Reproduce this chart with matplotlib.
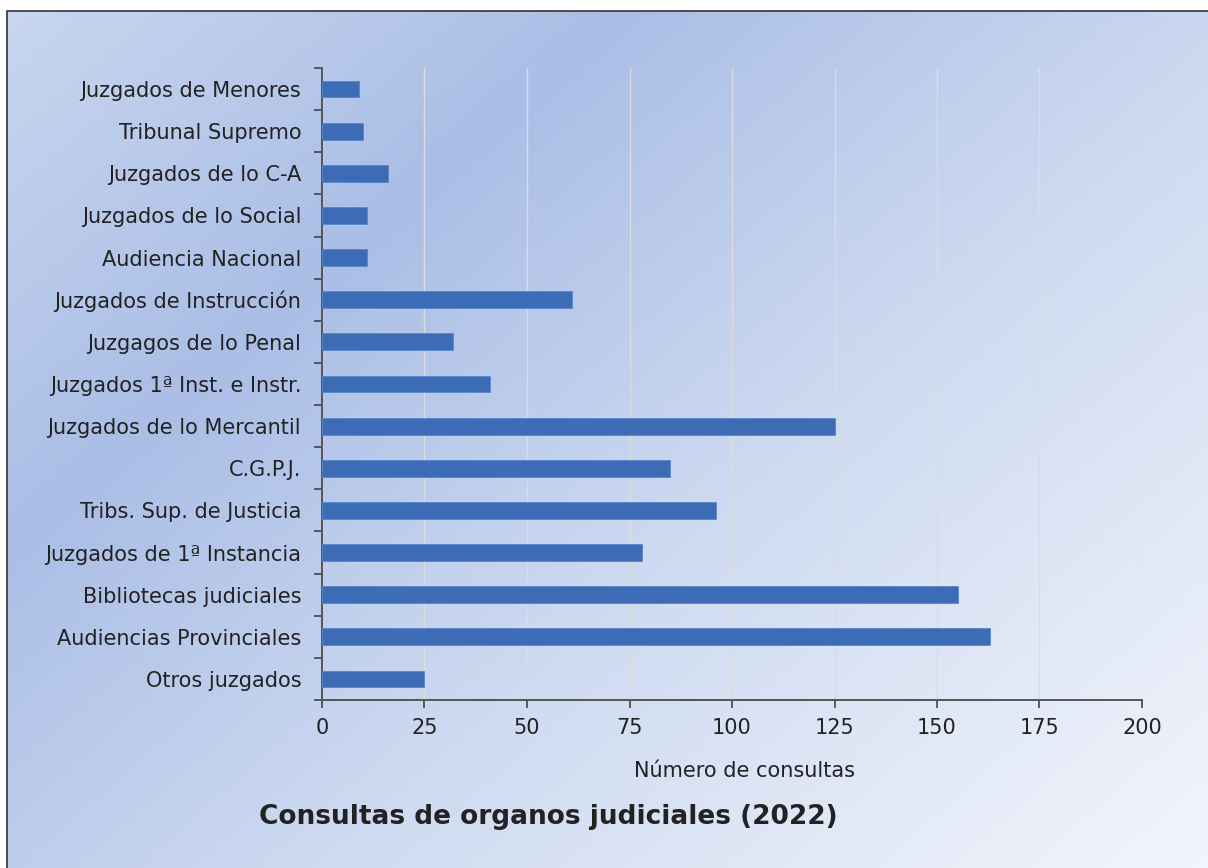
import matplotlib

matplotlib.use("Agg")
import matplotlib.pyplot as plt
import numpy as np
from matplotlib.colors import LinearSegmentedColormap
from matplotlib.patches import Rectangle

# categories top -> bottom as shown in the chart
organos = [
    "Juzgados de Menores",
    "Tribunal Supremo",
    "Juzgados de lo C-A",
    "Juzgados de lo Social",
    "Audiencia Nacional",
    "Juzgados de Instrucción",
    "Juzgagos de lo Penal",
    "Juzgados 1ª Inst. e Instr.",
    "Juzgados de lo Mercantil",
    "C.G.P.J.",
    "Tribs. Sup. de Justicia",
    "Juzgados de 1ª Instancia",
    "Bibliotecas judiciales",
    "Audiencias Provinciales",
    "Otros juzgados",
]
consultas = [9, 10, 16, 11, 11, 61, 32, 41, 125, 85, 96, 78, 155, 163, 25]
xticks = [0, 25, 50, 75, 100, 125, 150, 175, 200]

W, H = 1208, 868
fig = plt.figure(figsize=(W / 100, H / 100), dpi=100)
fig.patch.set_facecolor("white")

# gradient background panel (box starts at 7,11 px and runs off the right/bottom edges)
bg = fig.add_axes([7 / W, 0, 1 - 7 / W, 1 - 11 / H], zorder=0)
yy, xx = np.mgrid[0:1:200j, 0:1:200j]
t = np.clip(0.55 * xx + 0.45 * yy, 0, 1)
cmap = LinearSegmentedColormap.from_list(
    "bg", [(0, "#c8d6ef"), (0.28, "#aabee6"), (0.6, "#cfdbf1"), (1, "#f2f5fc")]
)
bg.imshow(t, cmap=cmap, aspect="auto", extent=[0, 1, 0, 1], origin="upper")
bg.set_xlim(0, 1)
bg.set_ylim(0, 1)
bg.axis("off")
bg.add_patch(Rectangle((0, -0.05), 1.05, 1.05, fill=False, ec="#333333", lw=1.2,
                       transform=bg.transAxes, clip_on=False))

ax = fig.add_axes([322 / W, 1 - 700 / H, (1142 - 322) / W, (700 - 68) / H], zorder=1)
ax.patch.set_alpha(0)
y = np.arange(len(organos))
ax.barh(y, consultas, height=0.4, color="#3c6cb6", edgecolor="#5a86c8", lw=0.6, zorder=3)
ax.set_ylim(len(organos) - 0.5, -0.5)
ax.set_xlim(0, 200)
ax.set_xticks(xticks)
ax.set_xticklabels([str(v) for v in xticks], fontsize=15, color="#222222")
ax.set_yticks(y)
ax.set_yticklabels(organos, fontsize=15, color="#222222")
ax.set_yticks(np.arange(-0.5, len(organos), 1), minor=True)
ax.tick_params(axis="y", which="major", length=0, pad=15)
ax.tick_params(axis="y", which="minor", length=6, color="#444444", width=1.2)
ax.tick_params(axis="x", length=6, color="#444444", width=1.2, pad=7)
ax.grid(axis="x", color="#dcdcdc", lw=1, zorder=0)
for s in ["top", "right"]:
    ax.spines[s].set_visible(False)
for s in ["left", "bottom"]:
    ax.spines[s].set_color("#555555")
    ax.spines[s].set_linewidth(1.4)

fig.text(745 / W, 1 - 771 / H, "Número de consultas", ha="center", va="center",
         fontsize=15, color="#222222")
fig.text(548 / W, 1 - 817 / H, "Consultas de organos judiciales (2022)", ha="center",
         va="center", fontsize=19, fontweight="bold", color="#222222")

fig.savefig("out.png", dpi=100)
